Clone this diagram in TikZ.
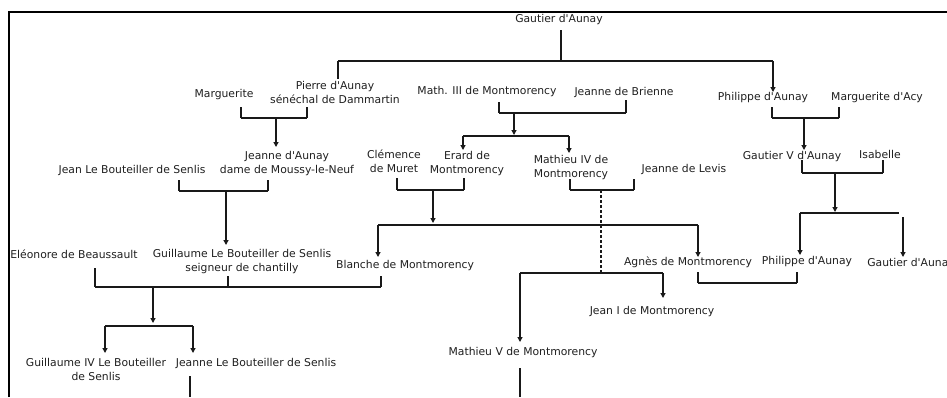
\documentclass[tikz,border=0pt]{standalone}
\usepackage{fontspec}
\setmainfont{DejaVu Sans}
\usetikzlibrary{arrows.meta}
\newcommand{\apo}{\textquotesingle}
\begin{document}
\begin{tikzpicture}[x=1pt,y=-1pt,
  lbl/.style={inner sep=0pt, align=center, font=\fontsize{10.8}{14}\selectfont, text=black!88},
  ln/.style={line width=1.2pt, draw=black!90},
  stub/.style={line width=2.6pt, draw=black!90},
  arr/.style={ln, -{Triangle[length=5pt,width=5pt]}},
  dsh/.style={ln, dash pattern=on 3pt off 2pt}]
\useasboundingbox (0,0) rectangle (947,397);
% frame
\coordinate (fbl) at (9,397); \coordinate (ftl) at (9,12); \coordinate (ftr) at (947,12);
\draw[line width=1.2pt] (fbl) -- (ftl) -- (ftr);

% ---------- labels ----------
\node[lbl] (gautier) at (559,19.5) {Gautier d\apo Aunay};
\node[lbl] (marguerite) at (224,95) {Marguerite};
\node[lbl] (pierre) at (335,92) {Pierre d\apo Aunay\\sénéchal de Dammartin};
\node[lbl] (jeanneA) at (287,164) {Jeanne d\apo Aunay\\dame de Moussy-le-Neuf};
\node[lbl] (jeanLB) at (132,170) {Jean Le Bouteiller de Senlis};
\node[lbl] (eleonore) at (74,254) {Eléonore de Beaussault};
\node[lbl] (guillaume) at (242,261.5) {Guillaume Le Bouteiller de Senlis\\seigneur de chantilly};
\node[lbl] (blanche) at (405,266) {Blanche de Montmorency};
\node[lbl] (guillaumeIV) at (96,369) {Guillaume IV Le Bouteiller\\de Senlis};
\node[lbl] (jeanneLB) at (256,363) {Jeanne Le Bouteiller de Senlis};
\node[lbl] (math3) at (487,92) {Math. III de Montmorency};
\node[lbl] (brienne) at (624,92) {Jeanne de Brienne};
\node[lbl] (clemence) at (394,161) {Clémence\\de Muret};
\node[lbl] (erard) at (467,164) {Erard de\\Montmorency};
\node[lbl] (mathieu4) at (571,168) {Mathieu IV de\\Montmorency};
\node[lbl] (levis) at (684,169) {Jeanne de Levis};
\node[lbl] (mathieu5) at (523,353) {Mathieu V de Montmorency};
\node[lbl] (jean1) at (652,312) {Jean I de Montmorency};
\node[lbl] (agnes) at (688,262) {Agnès de Montmorency};
\node[lbl] (philippe2) at (807,262) {Philippe d\apo Aunay};
\node[lbl] (gautier2) at (911,264) {Gautier d\apo Aunay};
\node[lbl] (philippe) at (763,98) {Philippe d\apo Aunay};
\node[lbl] (marguerite2) at (877,98) {Marguerite d\apo Acy};
\node[lbl] (gautier5) at (792,157) {Gautier V d\apo Aunay};
\node[lbl] (isabelle) at (880,154) {Isabelle};

% ---------- Gautier d'Aunay's children ----------
\coordinate (g0) at (561,30); \coordinate (g1) at (561,61);
\coordinate (gL) at (338,61); \coordinate (gR) at (773,61);
\coordinate (gLb) at (338,79); \coordinate (gRb) at (773,92);
\draw[stub] (g0) -- (g1);
\draw[ln] (gL) -- (gR);
\draw[stub] (gL) -- (gLb);
\draw[arr] (gR) -- (gRb);

% ---------- Marguerite + Pierre -> Jeanne d'Aunay ----------
\coordinate (mp1) at (241,107); \coordinate (mp2) at (241,118);
\coordinate (mp3) at (307,107); \coordinate (mp4) at (307,118);
\coordinate (mpc) at (276,118); \coordinate (mpe) at (276,147);
\draw[stub] (mp1) -- (mp2); \draw[stub] (mp3) -- (mp4);
\draw[ln] (mp2) -- (mp4);
\draw[arr] (mpc) -- (mpe);

% ---------- Jean LB + Jeanne -> Guillaume ----------
\coordinate (jj1) at (179,180); \coordinate (jj2) at (179,191);
\coordinate (jj3) at (268,180); \coordinate (jj4) at (268,191);
\coordinate (jjc) at (226,191); \coordinate (jje) at (226,245);
\draw[stub] (jj1) -- (jj2); \draw[stub] (jj3) -- (jj4);
\draw[ln] (jj2) -- (jj4);
\draw[arr] (jjc) -- (jje);

% ---------- Eleonore / Guillaume / Blanche -> children ----------
\coordinate (eg1) at (95,268); \coordinate (eg2) at (95,287);
\coordinate (eg3) at (228,276); \coordinate (eg4) at (228,287);
\coordinate (eg5) at (381,276); \coordinate (eg6) at (381,287);
\coordinate (egc) at (153,287); \coordinate (ege) at (153,323);
\draw[stub] (eg1) -- (eg2); \draw[stub] (eg3) -- (eg4); \draw[stub] (eg5) -- (eg6);
\draw[ln] (eg2) -- (eg6);
\draw[arr] (egc) -- (ege);
\coordinate (ch1) at (105,326); \coordinate (ch2) at (193,326);
\coordinate (ch1e) at (105,353); \coordinate (ch2e) at (193,353);
\draw[ln] (ch1) -- (ch2);
\draw[arr] (ch1) -- (ch1e);
\draw[arr] (ch2) -- (ch2e);
\coordinate (jlb1) at (190,376); \coordinate (jlb2) at (190,397);
\draw[stub] (jlb1) -- (jlb2);

% ---------- Math III + Jeanne de Brienne ----------
\coordinate (mb1) at (499,102); \coordinate (mb2) at (499,113);
\coordinate (mb3) at (626,100); \coordinate (mb4) at (626,113);
\coordinate (mbc) at (514,113); \coordinate (mbe) at (514,135);
\draw[stub] (mb1) -- (mb2); \draw[stub] (mb3) -- (mb4);
\draw[ln] (mb2) -- (mb4);
\draw[arr] (mbc) -- (mbe);
\coordinate (mk1) at (463,136); \coordinate (mk2) at (569,136);
\coordinate (mk1e) at (463,150); \coordinate (mk2e) at (569,153);
\draw[ln] (mk1) -- (mk2);
\draw[arr] (mk1) -- (mk1e);
\draw[arr] (mk2) -- (mk2e);

% ---------- Clemence + Erard ----------
\coordinate (ce1) at (397,178); \coordinate (ce2) at (397,190);
\coordinate (ce3) at (464,178); \coordinate (ce4) at (464,190);
\coordinate (cec) at (433,190); \coordinate (cee) at (433,223);
\draw[stub] (ce1) -- (ce2); \draw[stub] (ce3) -- (ce4);
\draw[ln] (ce2) -- (ce4);
\draw[arr] (cec) -- (cee);
\coordinate (bk1) at (378,225); \coordinate (bk2) at (698,225);
\coordinate (bk1e) at (378,257); \coordinate (bk2e) at (698,257);
\draw[ln] (bk1) -- (bk2);
\draw[arr] (bk1) -- (bk1e);
\draw[arr] (bk2) -- (bk2e);

% ---------- Mathieu IV + Jeanne de Levis ----------
\coordinate (ml1) at (570,179); \coordinate (ml2) at (570,190);
\coordinate (ml3) at (634,179); \coordinate (ml4) at (634,190);
\coordinate (mlc) at (601,190); \coordinate (mld) at (601,273);
\draw[stub] (ml1) -- (ml2); \draw[stub] (ml3) -- (ml4);
\draw[ln] (ml2) -- (ml4);
\draw[dsh] (mlc) -- (mld);
\coordinate (mv1) at (520,273); \coordinate (mv2) at (663,273);
\coordinate (mv1e) at (520,342); \coordinate (mv2e) at (663,298);
\draw[ln] (mv1) -- (mv2);
\draw[arr] (mv1) -- (mv1e);
\draw[arr] (mv2) -- (mv2e);
\coordinate (m5a) at (520,368); \coordinate (m5b) at (520,397);
\draw[stub] (m5a) -- (m5b);

% ---------- Agnes + Philippe ----------
\coordinate (ap1) at (698,272); \coordinate (ap2) at (698,283);
\coordinate (ap3) at (797,272); \coordinate (ap4) at (797,283);
\draw[stub] (ap1) -- (ap2); \draw[stub] (ap3) -- (ap4);
\draw[ln] (ap2) -- (ap4);

% ---------- Philippe + Marguerite d'Acy ----------
\coordinate (pm1) at (772,107); \coordinate (pm2) at (772,118);
\coordinate (pm3) at (839,107); \coordinate (pm4) at (839,118);
\coordinate (pmc) at (804,118); \coordinate (pme) at (804,150);
\draw[stub] (pm1) -- (pm2); \draw[stub] (pm3) -- (pm4);
\draw[ln] (pm2) -- (pm4);
\draw[arr] (pmc) -- (pme);

% ---------- Gautier V + Isabelle ----------
\coordinate (gi1) at (802,160); \coordinate (gi2) at (802,173);
\coordinate (gi3) at (883,160); \coordinate (gi4) at (883,173);
\coordinate (gic) at (835,173); \coordinate (gie) at (835,212);
\draw[ln] (gi1) -- (gi2); \draw[stub] (gi3) -- (gi4);
\draw[ln] (gi2) -- (gi4);
\draw[arr] (gic) -- (gie);
\coordinate (gk1) at (800,213); \coordinate (gk2) at (899,213);
\coordinate (gk1e) at (800,255);
\coordinate (gk3) at (903,217); \coordinate (gk3e) at (903,257);
\draw[ln] (gk1) -- (gk2);
\draw[arr] (gk1) -- (gk1e);
\draw[arr] (gk3) -- (gk3e);
\end{tikzpicture}
\end{document}
